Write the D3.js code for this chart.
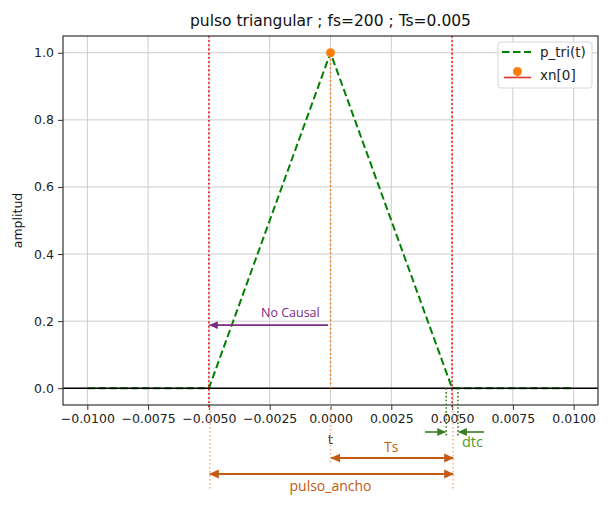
<!DOCTYPE html>
<html>
<head>
<meta charset="utf-8">
<script src="https://cdn.jsdelivr.net/npm/d3@7"></script>
<style>
  body { margin: 0; background: #fff; }
  svg { display: block; }
  .tick text { font-family: "DejaVu Sans", sans-serif; font-size: 12.5px; fill: #222; }
</style>
</head>
<body>
<svg id="chart"></svg>
<script>
// señal p_tri(t): pulso triangular de ancho 2*Ts
const tValues = [-0.01, -0.005, 0, 0.005, 0.01];
const pTri = [0, 0, 1, 0, 0];
// muestra xn[0]
const stemT = [0];
const stemX = [1];
// ticks
const xTicks = [-0.01, -0.0075, -0.005, -0.0025, 0, 0.0025, 0.005, 0.0075, 0.01];
const yTicks = [0, 0.2, 0.4, 0.6, 0.8, 1.0];
const edgeLines = [-0.005, 0.005]; // axvline rojas
const dtcLines = [0.00476, 0.00524];

const width = 614, height = 505;
const colorTri = "#008000";
const colorStem = "#ff7f0e";
const colorEdge = "#ff0000";
const colorNote = "#c55a11";
const colorNotePale = "#f4b183";
const colorPurple = "#7a2a80";
const colorGreen = "#3b7d23";

const svg = d3.select('svg#chart')
    .attr('width', width)
    .attr('height', height);

svg.append('rect').attr('width', width).attr('height', height).attr('fill', '#fff');

const x = d3.scaleLinear().domain([-0.011, 0.011]).range([63, 598]);
const y = d3.scaleLinear().domain([-0.05, 1.05]).range([405, 36]);

const defs = svg.append('defs');
function marker(id, color) {
    defs.append('marker')
        .attr('id', id)
        .attr('viewBox', '0 0 10 10')
        .attr('refX', 9).attr('refY', 5)
        .attr('markerWidth', 5.5).attr('markerHeight', 5.5)
        .attr('markerUnits', 'strokeWidth')
        .attr('orient', 'auto-start-reverse')
        .append('path').attr('d', 'M0,0.5 L10,5 L0,9.5 z').attr('fill', color);
}
marker('arrPurple', colorPurple);
marker('arrOrange', colorNote);
marker('arrGreen', colorGreen);

// grid
svg.append('g').selectAll('line').data(xTicks).join('line')
    .attr('x1', d => x(d)).attr('x2', d => x(d))
    .attr('y1', y.range()[0]).attr('y2', y.range()[1])
    .attr('stroke', '#cccccc').attr('stroke-width', 1);
svg.append('g').selectAll('line').data(yTicks).join('line')
    .attr('x1', x.range()[0]).attr('x2', x.range()[1])
    .attr('y1', d => y(d)).attr('y2', d => y(d))
    .attr('stroke', '#cccccc').attr('stroke-width', 1);

// p_tri(t)
const line = d3.line().x((d, i) => x(tValues[i])).y(d => y(d));
svg.append('path').datum(pTri)
    .attr('d', line)
    .attr('fill', 'none')
    .attr('stroke', colorTri)
    .attr('stroke-width', 2)
    .attr('stroke-dasharray', '7.5,3.5');

// eje horizontal
svg.append('line')
    .attr('x1', x.range()[0]).attr('x2', x.range()[1])
    .attr('y1', y(0)).attr('y2', y(0))
    .attr('stroke', '#000').attr('stroke-width', 1.7);

// axvline en +-Ts
svg.append('g').selectAll('line').data(edgeLines).join('line')
    .attr('x1', d => x(d)).attr('x2', d => x(d))
    .attr('y1', y.range()[1]).attr('y2', y.range()[0] + 4)
    .attr('stroke', colorEdge).attr('stroke-width', 1.6)
    .attr('stroke-dasharray', '1.6,2.6');

// stem xn[0]
svg.append('g').selectAll('line').data(stemX).join('line')
    .attr('x1', (d, i) => x(stemT[i])).attr('x2', (d, i) => x(stemT[i]))
    .attr('y1', y(0)).attr('y2', d => y(d))
    .attr('stroke', colorStem).attr('stroke-width', 1.6)
    .attr('stroke-dasharray', '1.6,2.6');
svg.append('g').selectAll('circle').data(stemX).join('circle')
    .attr('cx', (d, i) => x(stemT[i])).attr('cy', d => y(d))
    .attr('r', 4.5).attr('fill', colorStem);

// ejes
svg.append('g').attr('transform', `translate(0,${y.range()[0]})`)
    .call(d3.axisBottom(x).tickValues(xTicks).tickFormat(d3.format('.4f')).tickSize(5).tickPadding(4).tickSizeOuter(0));
svg.append('g').attr('transform', `translate(${x.range()[0]},0)`)
    .call(d3.axisLeft(y).tickValues(yTicks).tickFormat(d3.format('.1f')).tickSize(5).tickPadding(4).tickSizeOuter(0));
svg.selectAll('.domain').remove();
svg.selectAll('.tick line').attr('stroke', '#333');

svg.append('rect')
    .attr('x', x.range()[0]).attr('y', y.range()[1])
    .attr('width', x.range()[1] - x.range()[0])
    .attr('height', y.range()[0] - y.range()[1])
    .attr('fill', 'none').attr('stroke', '#333').attr('stroke-width', 1.2);

// titulos
svg.append('text')
    .attr('x', (x.range()[0] + x.range()[1]) / 2).attr('y', 26)
    .attr('text-anchor', 'middle')
    .attr('font-family', 'DejaVu Sans').attr('font-size', 15.5).attr('fill', '#111')
    .text('pulso triangular ; fs=200 ; Ts=0.005');
svg.append('text')
    .attr('transform', `translate(22,${(y.range()[0] + y.range()[1]) / 2}) rotate(-90)`)
    .attr('text-anchor', 'middle')
    .attr('font-family', 'DejaVu Sans').attr('font-size', 12.5).attr('fill', '#111')
    .text('amplitud');
svg.append('text')
    .attr('x', x(0)).attr('y', 444)
    .attr('text-anchor', 'middle')
    .attr('font-family', 'DejaVu Sans').attr('font-size', 12.5).attr('fill', '#222')
    .text('t');

// leyenda
const leg = svg.append('g').attr('transform', 'translate(498,42)');
leg.append('rect').attr('width', 94).attr('height', 46).attr('rx', 3)
    .attr('fill', '#fff').attr('fill-opacity', 0.85)
    .attr('stroke', '#d6d6d6');
leg.append('line').attr('x1', 4).attr('x2', 33).attr('y1', 10).attr('y2', 10)
    .attr('stroke', colorTri).attr('stroke-width', 2).attr('stroke-dasharray', '7.5,3.5');
leg.append('text').attr('x', 42).attr('y', 15)
    .attr('font-family', 'DejaVu Sans').attr('font-size', 13.5).attr('fill', '#222')
    .text('p_tri(t)');
leg.append('line').attr('x1', 6).attr('x2', 33).attr('y1', 35.5).attr('y2', 35.5)
    .attr('stroke', '#e03030').attr('stroke-width', 1.6);
leg.append('line').attr('x1', 19.5).attr('x2', 19.5).attr('y1', 30).attr('y2', 35.5)
    .attr('stroke', colorStem).attr('stroke-width', 1.6);
leg.append('circle').attr('cx', 19.5).attr('cy', 29.5).attr('r', 4.5).attr('fill', colorStem);
leg.append('text').attr('x', 42).attr('y', 38)
    .attr('font-family', 'DejaVu Sans').attr('font-size', 13.5).attr('fill', '#222')
    .text('xn[0]');

// anotaciones
const note = svg.append('g').attr('font-family', '"Open Sans", sans-serif');

// No Causal
note.append('line')
    .attr('x1', x(-0.0001)).attr('x2', x(-0.005) + 1)
    .attr('y1', y(0.188)).attr('y2', y(0.188))
    .attr('stroke', colorPurple).attr('stroke-width', 1.6)
    .attr('marker-end', 'url(#arrPurple)');
note.append('text')
    .attr('x', x(-0.00165)).attr('y', y(0.226) + 4.5)
    .attr('text-anchor', 'middle').attr('font-size', 12.5).attr('fill', colorPurple)
    .text('No Causal');

// lineas guia bajo el eje
note.append('line')
    .attr('x1', x(0)).attr('x2', x(0)).attr('y1', y.range()[0]).attr('y2', 465)
    .attr('stroke', colorNotePale).attr('stroke-width', 1.5).attr('stroke-dasharray', '1.5,2.5');
note.selectAll('line.guia').data(edgeLines).join('line').attr('class', 'guia')
    .attr('x1', d => x(d) + 1).attr('x2', d => x(d) + 1)
    .attr('y1', (d, i) => i ? 395 : y.range()[0] + 2).attr('y2', 489)
    .attr('stroke', colorNotePale).attr('stroke-width', 1.5).attr('stroke-dasharray', '1.5,2.5');

// Ts
note.append('line')
    .attr('x1', x(0) + 1).attr('x2', x(0.005) + 1)
    .attr('y1', 458).attr('y2', 458)
    .attr('stroke', colorNote).attr('stroke-width', 1.8)
    .attr('marker-start', 'url(#arrOrange)').attr('marker-end', 'url(#arrOrange)');
note.append('text')
    .attr('x', x(0.0025)).attr('y', 452)
    .attr('text-anchor', 'middle').attr('font-size', 14).attr('fill', colorNote)
    .text('Ts');

// pulso_ancho
note.append('line')
    .attr('x1', x(-0.005) + 1).attr('x2', x(0.005) + 1)
    .attr('y1', 474).attr('y2', 474)
    .attr('stroke', colorNote).attr('stroke-width', 1.8)
    .attr('marker-start', 'url(#arrOrange)').attr('marker-end', 'url(#arrOrange)');
note.append('text')
    .attr('x', x(0)).attr('y', 491)
    .attr('text-anchor', 'middle').attr('font-size', 14).attr('fill', colorNote)
    .text('pulso_ancho');

// dtc
note.selectAll('line.dtc').data(dtcLines).join('line').attr('class', 'dtc')
    .attr('x1', d => x(d)).attr('x2', d => x(d))
    .attr('y1', y(0)).attr('y2', 437)
    .attr('stroke', colorGreen).attr('stroke-width', 1.6).attr('stroke-dasharray', '1.6,2.2');
note.append('line')
    .attr('x1', 425).attr('x2', x(dtcLines[0]) - 1)
    .attr('y1', 432).attr('y2', 432)
    .attr('stroke', colorGreen).attr('stroke-width', 1.6).attr('marker-end', 'url(#arrGreen)');
note.append('line')
    .attr('x1', 484).attr('x2', x(dtcLines[1]) + 1)
    .attr('y1', 432).attr('y2', 432)
    .attr('stroke', colorGreen).attr('stroke-width', 1.6).attr('marker-end', 'url(#arrGreen)');
note.append('text')
    .attr('x', 462).attr('y', 447)
    .attr('font-size', 14.5).attr('fill', '#4e9a2e')
    .text('dtc');
</script>
</body>
</html>
